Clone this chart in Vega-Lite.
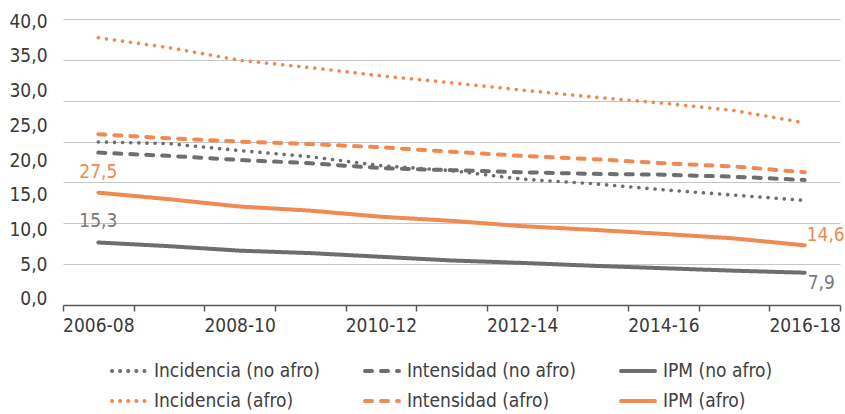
{
  "$schema": "https://vega.github.io/schema/vega-lite/v6.json",
  "width": 777,
  "height": 286,
  "autosize": {"type": "none"},
  "padding": {"left": 63, "top": 19, "right": 5, "bottom": 109},
  "background": "white",
  "config": {
    "locale": {"number": {"decimal": ",", "thousands": ".", "grouping": [3], "currency": ["", ""]}},
    "font": "DejaVu Sans Condensed",
    "view": {"stroke": null},
    "axis": {"labelFont": "DejaVu Sans Condensed", "labelFontSize": 19, "labelColor": "#3a3a3a"},
    "text": {"font": "DejaVu Sans Condensed", "fontSize": 19},
    "legend": {
      "orient": "none",
      "legendX": 47,
      "legendY": 333,
      "direction": "horizontal",
      "columns": 3,
      "title": null,
      "padding": 0,
      "symbolType": "stroke",
      "symbolSize": 1156,
      "symbolStrokeWidth": 4,
      "labelFont": "DejaVu Sans Condensed",
      "labelFontSize": 19,
      "labelColor": "#404040",
      "labelOffset": 6,
      "labelLimit": 400,
      "columnPadding": 37,
      "rowPadding": 1,
      "gridAlign": "each"
    }
  },
  "datasets": {
    "d": [
      {"periodo": "2006-08", "serie": "Incidencia (afro)", "valor": 65.4},
      {"periodo": "2007-09", "serie": "Incidencia (afro)", "valor": 63.0},
      {"periodo": "2008-10", "serie": "Incidencia (afro)", "valor": 59.9},
      {"periodo": "2009-11", "serie": "Incidencia (afro)", "valor": 58.1},
      {"periodo": "2010-12", "serie": "Incidencia (afro)", "valor": 56.1},
      {"periodo": "2011-13", "serie": "Incidencia (afro)", "valor": 54.4},
      {"periodo": "2012-14", "serie": "Incidencia (afro)", "valor": 52.6},
      {"periodo": "2013-15", "serie": "Incidencia (afro)", "valor": 50.9},
      {"periodo": "2014-16", "serie": "Incidencia (afro)", "valor": 49.4},
      {"periodo": "2015-17", "serie": "Incidencia (afro)", "valor": 47.6},
      {"periodo": "2016-18", "serie": "Incidencia (afro)", "valor": 44.6},
      {"periodo": "2006-08", "serie": "Intensidad (afro)", "valor": 41.8},
      {"periodo": "2007-09", "serie": "Intensidad (afro)", "valor": 40.8},
      {"periodo": "2008-10", "serie": "Intensidad (afro)", "valor": 40.0},
      {"periodo": "2009-11", "serie": "Intensidad (afro)", "valor": 39.4},
      {"periodo": "2010-12", "serie": "Intensidad (afro)", "valor": 38.6},
      {"periodo": "2011-13", "serie": "Intensidad (afro)", "valor": 37.5},
      {"periodo": "2012-14", "serie": "Intensidad (afro)", "valor": 36.5},
      {"periodo": "2013-15", "serie": "Intensidad (afro)", "valor": 35.7},
      {"periodo": "2014-16", "serie": "Intensidad (afro)", "valor": 34.7},
      {"periodo": "2015-17", "serie": "Intensidad (afro)", "valor": 33.9},
      {"periodo": "2016-18", "serie": "Intensidad (afro)", "valor": 32.5},
      {"periodo": "2006-08", "serie": "Incidencia (no afro)", "valor": 39.9},
      {"periodo": "2007-09", "serie": "Incidencia (no afro)", "valor": 39.5},
      {"periodo": "2008-10", "serie": "Incidencia (no afro)", "valor": 37.8},
      {"periodo": "2009-11", "serie": "Incidencia (no afro)", "valor": 36.3},
      {"periodo": "2010-12", "serie": "Incidencia (no afro)", "valor": 34.1},
      {"periodo": "2011-13", "serie": "Incidencia (no afro)", "valor": 32.9},
      {"periodo": "2012-14", "serie": "Incidencia (no afro)", "valor": 30.8},
      {"periodo": "2013-15", "serie": "Incidencia (no afro)", "valor": 29.7},
      {"periodo": "2014-16", "serie": "Incidencia (no afro)", "valor": 28.2},
      {"periodo": "2015-17", "serie": "Incidencia (no afro)", "valor": 26.9},
      {"periodo": "2016-18", "serie": "Incidencia (no afro)", "valor": 25.6},
      {"periodo": "2006-08", "serie": "Intensidad (no afro)", "valor": 37.3},
      {"periodo": "2007-09", "serie": "Intensidad (no afro)", "valor": 36.5},
      {"periodo": "2008-10", "serie": "Intensidad (no afro)", "valor": 35.5},
      {"periodo": "2009-11", "serie": "Intensidad (no afro)", "valor": 34.7},
      {"periodo": "2010-12", "serie": "Intensidad (no afro)", "valor": 33.5},
      {"periodo": "2011-13", "serie": "Intensidad (no afro)", "valor": 33.0},
      {"periodo": "2012-14", "serie": "Intensidad (no afro)", "valor": 32.5},
      {"periodo": "2013-15", "serie": "Intensidad (no afro)", "valor": 32.1},
      {"periodo": "2014-16", "serie": "Intensidad (no afro)", "valor": 31.9},
      {"periodo": "2015-17", "serie": "Intensidad (no afro)", "valor": 31.4},
      {"periodo": "2016-18", "serie": "Intensidad (no afro)", "valor": 30.6},
      {"periodo": "2006-08", "serie": "IPM (afro)", "valor": 27.5},
      {"periodo": "2007-09", "serie": "IPM (afro)", "valor": 25.9},
      {"periodo": "2008-10", "serie": "IPM (afro)", "valor": 24.1},
      {"periodo": "2009-11", "serie": "IPM (afro)", "valor": 23.1},
      {"periodo": "2010-12", "serie": "IPM (afro)", "valor": 21.6},
      {"periodo": "2011-13", "serie": "IPM (afro)", "valor": 20.6},
      {"periodo": "2012-14", "serie": "IPM (afro)", "valor": 19.3},
      {"periodo": "2013-15", "serie": "IPM (afro)", "valor": 18.4},
      {"periodo": "2014-16", "serie": "IPM (afro)", "valor": 17.4},
      {"periodo": "2015-17", "serie": "IPM (afro)", "valor": 16.3},
      {"periodo": "2016-18", "serie": "IPM (afro)", "valor": 14.6},
      {"periodo": "2006-08", "serie": "IPM (no afro)", "valor": 15.3},
      {"periodo": "2007-09", "serie": "IPM (no afro)", "valor": 14.4},
      {"periodo": "2008-10", "serie": "IPM (no afro)", "valor": 13.3},
      {"periodo": "2009-11", "serie": "IPM (no afro)", "valor": 12.7},
      {"periodo": "2010-12", "serie": "IPM (no afro)", "valor": 11.8},
      {"periodo": "2011-13", "serie": "IPM (no afro)", "valor": 10.9},
      {"periodo": "2012-14", "serie": "IPM (no afro)", "valor": 10.3},
      {"periodo": "2013-15", "serie": "IPM (no afro)", "valor": 9.6},
      {"periodo": "2014-16", "serie": "IPM (no afro)", "valor": 9.0},
      {"periodo": "2015-17", "serie": "IPM (no afro)", "valor": 8.4},
      {"periodo": "2016-18", "serie": "IPM (no afro)", "valor": 7.9}
    ],
    "ax": [{"t": 0}, {"t": 40}]
  },
  "layer": [
    {
      "data": {"name": "ax"},
      "mark": {"type": "point", "opacity": 0},
      "encoding": {
        "y": {
          "field": "t",
          "type": "quantitative",
          "scale": {"domain": [-0.87, 40.3], "nice": false, "zero": false},
          "axis": {
            "orient": "left",
            "values": [0, 5, 10, 15, 20, 25, 30, 35, 40],
            "format": ".1f",
            "grid": false,
            "domain": false,
            "ticks": false,
            "tickSize": 0,
            "labelPadding": 16,
            "title": null
          }
        }
      }
    },
    {
      "data": {"name": "d"},
      "encoding": {
        "x": {
          "field": "periodo",
          "type": "ordinal",
          "scale": {"type": "band", "paddingInner": 0, "paddingOuter": 0},
          "axis": {
            "title": null,
            "tickBand": "extent",
            "labelExpr": "toNumber(substring(datum.value, 0, 4)) % 2 == 0 ? datum.value : ''",
            "labelAngle": 0,
            "labelOverlap": false,
            "domainColor": "#5a5a5a",
            "domainWidth": 1.5,
            "tickColor": "#5a5a5a",
            "tickWidth": 1.5,
            "tickSize": 6,
            "labelPadding": 5,
            "grid": false
          }
        },
        "y": {
          "field": "valor",
          "type": "quantitative",
          "scale": {"domain": [0, 70], "nice": false},
          "axis": {
            "orient": "right",
            "values": [10, 20, 30, 40, 50, 60, 70],
            "labels": false,
            "ticks": false,
            "domain": false,
            "grid": true,
            "gridColor": "#c6c6c6",
            "gridWidth": 1,
            "title": null
          }
        }
      },
      "layer": [
        {
          "transform": [{"filter": "indexof(datum.serie, 'Incidencia') == 0"}],
          "mark": {"type": "line", "strokeWidth": 3.6, "strokeCap": "round"},
          "encoding": {
            "color": {
              "field": "serie",
              "type": "nominal",
              "scale": {
                "domain": ["Incidencia (no afro)", "Intensidad (no afro)", "IPM (no afro)", "Incidencia (afro)", "Intensidad (afro)", "IPM (afro)"],
                "range": ["#6d6e71", "#6d6e71", "#6d6e71", "#ef8a50", "#ef8a50", "#ef8a50"]
              },
              "legend": {"encode": {"symbols": {"update": {"strokeCap": {"value": "round"}}}}}
            },
            "strokeDash": {
              "field": "serie",
              "type": "nominal",
              "scale": {
                "domain": ["Incidencia (no afro)", "Intensidad (no afro)", "IPM (no afro)", "Incidencia (afro)", "Intensidad (afro)", "IPM (afro)"],
                "range": [[0.1, 8], [7, 9], [1, 0], [0.1, 8], [7, 9], [1, 0]]
              },
              "legend": {"encode": {"symbols": {"update": {"strokeCap": {"value": "round"}}}}}
            }
          }
        },
        {
          "transform": [{"filter": "indexof(datum.serie, 'Incidencia') != 0"}],
          "mark": {"type": "line", "strokeWidth": 4, "strokeCap": "round"},
          "encoding": {
            "color": {"field": "serie", "type": "nominal"},
            "strokeDash": {"field": "serie", "type": "nominal"}
          }
        },
        {
          "transform": [{"filter": "datum.serie == 'IPM (afro)' && datum.periodo == '2006-08'"}],
          "mark": {"type": "text", "dy": -21, "align": "center", "baseline": "middle", "color": "#ef8a50"},
          "encoding": {"text": {"field": "valor", "type": "quantitative", "format": ".1f"}}
        },
        {
          "transform": [{"filter": "datum.serie == 'IPM (no afro)' && datum.periodo == '2006-08'"}],
          "mark": {"type": "text", "dy": -21, "align": "center", "baseline": "middle", "color": "#77787b"},
          "encoding": {"text": {"field": "valor", "type": "quantitative", "format": ".1f"}}
        },
        {
          "transform": [{"filter": "datum.serie == 'IPM (afro)' && datum.periodo == '2016-18'"}],
          "mark": {"type": "text", "dx": 2, "dy": -10, "align": "left", "baseline": "middle", "color": "#ef8a50"},
          "encoding": {"text": {"field": "valor", "type": "quantitative", "format": ".1f"}}
        },
        {
          "transform": [{"filter": "datum.serie == 'IPM (no afro)' && datum.periodo == '2016-18'"}],
          "mark": {"type": "text", "dx": 3, "dy": 10, "align": "left", "baseline": "middle", "color": "#77787b"},
          "encoding": {"text": {"field": "valor", "type": "quantitative", "format": ".1f"}}
        }
      ]
    }
  ],
  "resolve": {"scale": {"y": "independent"}, "axis": {"y": "independent"}}
}
